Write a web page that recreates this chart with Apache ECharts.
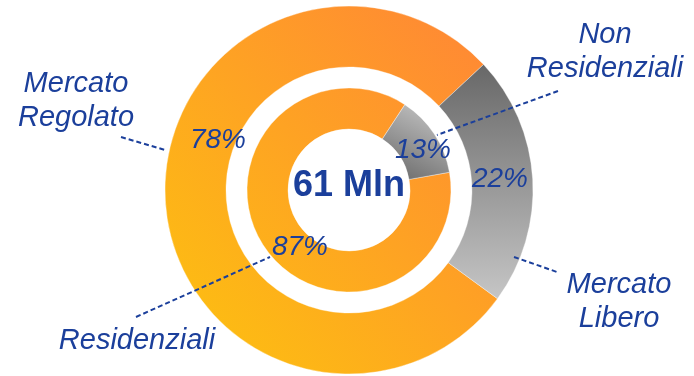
<!DOCTYPE html>
<html>
<head>
<meta charset="utf-8">
<script src="https://cdn.jsdelivr.net/npm/echarts@6/dist/echarts.min.js"></script>
<style>
  html, body { margin: 0; padding: 0; background: #ffffff; }
  #chart { width: 694px; height: 376px; }
</style>
</head>
<body>
<div id="chart"></div>
<script>
// Market split (outer ring) and customer split (inner ring), in percent
const marketNames = ['Mercato Regolato', 'Mercato Libero'];
const marketValues = [78, 22];
const customerNames = ['Residenziali', 'Non Residenziali'];
const customerValues = [87, 13];
const totalLabel = '61 Mln';

const BLUE = '#1B3F9B';
const CX = 349, CY = 190;

// orange fill shared by both rings, yellow at lower left to orange at upper right
const orangeFill = new echarts.graphic.LinearGradient(180, 350, 510, 35, [
  { offset: 0, color: '#FDC010' },
  { offset: 1, color: '#FF8636' }
], true);
const outerGrey = new echarts.graphic.LinearGradient(0, 65, 0, 300, [
  { offset: 0, color: '#686868' },
  { offset: 1, color: '#C6C6C6' }
], true);
const innerGrey = new echarts.graphic.LinearGradient(432, 104, 392, 184, [
  { offset: 0, color: '#C4C4C4' },
  { offset: 1, color: '#666666' }
], true);

// where the percent labels sit, per ring, per slice
const pctPos = [
  [[218, 140], [500, 179]],
  [[300, 247], [423, 150]]
];

function ring(names, values, fills, radius, startAngle, ringIdx) {
  return {
    type: 'pie',
    center: [CX, CY],
    radius: radius,
    startAngle: startAngle,
    clockwise: true,
    silent: true,
    animation: false,
    avoidLabelOverlap: false,
    itemStyle: { borderColor: 'rgba(255,255,255,0.6)', borderWidth: 0.6 },
    label: {
      show: true,
      position: 'inside',
      formatter: p => p.value + '%',
      fontFamily: 'Liberation Sans, Arial, sans-serif',
      fontStyle: 'italic',
      fontSize: 28,
      color: BLUE
    },
    labelLine: { show: false },
    labelLayout: p => ({
      x: pctPos[ringIdx][p.dataIndex][0],
      y: pctPos[ringIdx][p.dataIndex][1],
      align: 'center',
      verticalAlign: 'middle'
    }),
    data: values.map((v, i) => ({ name: names[i], value: v, itemStyle: { color: fills[i] } }))
  };
}

// category captions and their dashed leaders
const captions = [
  { text: 'Mercato\nRegolato', x: 76, y: 101, line: [[121, 137], [165, 150]] },
  { text: 'Mercato\nLibero', x: 619, y: 302, line: [[514, 257], [557, 272]] },
  { text: 'Residenziali', x: 137, y: 341, line: [[136, 317], [270, 257]] },
  { text: 'Non\nResidenziali', x: 605, y: 52, line: [[558, 91], [437, 135]] }
];

const graphics = [];
captions.forEach(c => {
  graphics.push({
    type: 'text', z: 100, silent: true,
    style: {
      text: c.text, x: c.x, y: c.y,
      align: 'center', verticalAlign: 'middle',
      font: 'italic 29px "Liberation Sans", Arial, sans-serif',
      lineHeight: 34, fill: BLUE
    }
  });
  graphics.push({
    type: 'polyline', z: 100, silent: true,
    shape: { points: c.line },
    style: { stroke: BLUE, lineWidth: 2, lineDash: [5, 3], fill: null }
  });
});
graphics.push({
  type: 'text', z: 100, silent: true,
  style: {
    text: totalLabel, x: CX, y: 186,
    align: 'center', verticalAlign: 'middle',
    font: 'bold 36px "Liberation Sans", Arial, sans-serif',
    fill: BLUE
  }
});

const chart = echarts.init(document.getElementById('chart'), null, { renderer: 'canvas' });
chart.setOption({
  backgroundColor: '#ffffff',
  animation: false,
  series: [
    ring(marketNames, marketValues, [orangeFill, outerGrey], [123, 184], -36.2, 0),
    ring(customerNames, customerValues, [orangeFill, innerGrey], [61, 102], 10, 1)
  ],
  graphic: graphics
});
</script>
</body>
</html>
